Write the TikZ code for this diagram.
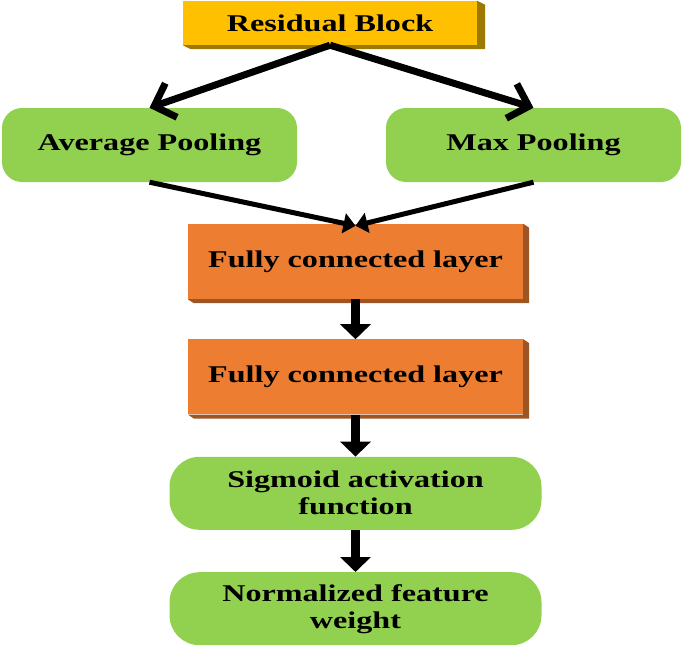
\documentclass[tikz,border=0pt]{standalone}
\usepackage{fontspec}
\newfontfamily\boxfont[FakeStretch=1.34]{Liberation Serif}
\usepackage{tikz}
\usetikzlibrary{arrows.meta, positioning}
\definecolor{gold}{HTML}{FFC000}
\definecolor{goldshade}{HTML}{9C7A00}
\definecolor{fcorange}{HTML}{ED7D31}
\definecolor{fcshade}{HTML}{9E5525}
\definecolor{poolgreen}{HTML}{92D050}
\tikzset{
		box/.style={rectangle, align=center, inner sep=2pt,
			font=\boxfont\bfseries\fontsize{24}{27}\selectfont},
		res box/.style={box, fill=gold, minimum width=294pt, minimum height=44pt},
		fc box/.style={box, fill=fcorange, minimum width=335pt, minimum height=75pt},
		pool box/.style={box, fill=poolgreen, rounded corners=20pt, minimum width=295pt, minimum height=74pt},
		out box/.style={box, fill=poolgreen, rounded corners=30pt, minimum width=372pt, minimum height=73pt},
		split arrow/.style={line width=7pt, -{Straight Barb[length=18pt,width=36pt]}},
		merge arrow/.style={line width=5pt, -{Triangle[length=12pt,width=20pt]}},
		down arrow/.style={line width=9pt, -{Triangle[length=15pt,width=30pt]}}
	}
\begin{document}
\begin{tikzpicture}[x=1pt, y=-1pt, node distance=40pt]
	\useasboundingbox (0,0) rectangle (685,648);
	\node[res box]  (res)  at (330,23)     {Residual Block};
	\node[pool box] (avg)  at (149.5,145)  {Average Pooling};
	\node[pool box] (max)  at (533.5,145)  {Max Pooling};
	\node[fc box]   (fc1)  at (355.5,261.5) {Fully connected layer};
	\node[fc box]   (fc2)  [below = of fc1] {Fully connected layer};
	\node[out box]  (sig)  [below = 42pt of fc2] {Sigmoid activation\\function};
	\node[out box]  (norm) [below = 42pt of sig] {Normalized feature\\weight};
	% 3d edges
	\foreach \n/\c/\dx/\dy in {res/goldshade/8/4, fc1/fcshade/6/4, fc2/fcshade/6/4}
		\fill[\c] (\n.north east) -- ++(\dx,\dy) -- ([shift={(\dx,\dy)}]\n.south east)
			-- ([shift={(\dx,\dy)}]\n.south west) -- (\n.south west) -- (\n.south east) -- cycle;
	\draw[split arrow] (res.south) -- (avg.north);
	\draw[split arrow] (res.south) -- (max.north);
	\draw[merge arrow] (avg.south) -- ([yshift=-2pt]fc1.north);
	\draw[merge arrow] (max.south) -- ([yshift=-2pt]fc1.north);
	\draw[down arrow] (fc1.south) -- (fc2.north);
	\draw[down arrow] (fc2.south) -- (sig.north);
	\draw[down arrow] (sig.south) -- (norm.north);
\end{tikzpicture}
\end{document}
